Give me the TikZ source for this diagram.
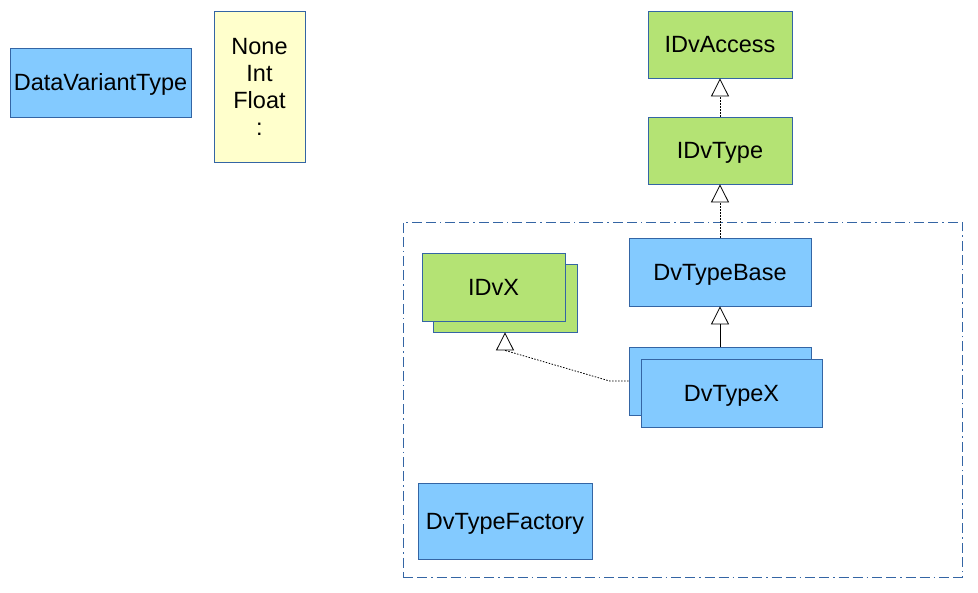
\documentclass[tikz,border=0pt]{standalone}
\usepackage{fontspec}
\setmainfont{Liberation Sans}
\usetikzlibrary{positioning, arrows.meta, calc}

\definecolor{clsblue}{HTML}{83CAFF}
\definecolor{ifgreen}{HTML}{B4E374}
\definecolor{enumyellow}{HTML}{FFFFCC}
\definecolor{edgeblue}{HTML}{3465A4}

\begin{document}
\begin{tikzpicture}[
        x=1pt, y=-1pt,
        font=\fontsize{23.5}{27}\selectfont,
        inherit/.style={-{Triangle[open, length=18pt, width=18pt]}, line width=0.8pt},
        realize/.style={inherit, dash pattern=on 1.5pt off 1.5pt},
        umlbox/.style={draw=edgeblue, line width=0.8pt, inner sep=0pt, align=center},
        classbox/.style={umlbox, fill=clsblue, text height=17pt, text depth=0pt},
        iface/.style={classbox, fill=ifgreen},
        enumbox/.style={umlbox, fill=enumyellow},
        package/.style={draw=edgeblue, line width=0.8pt, dash pattern=on 10pt off 4pt on 10pt off 4pt on 1.5pt off 4pt},
    ]
    \useasboundingbox (0,0) rectangle (978,593);

        % Draw the package frame
        \node[package, minimum width=559pt, minimum height=355pt, inner sep=0pt] (pkg) at (682.5,399.5) {};

        % Draw the types on the left
        \node[classbox, minimum width=181pt, minimum height=69pt] (DataVariantType) at (100.5,82.5) {DataVariantType};
        \node[enumbox, minimum width=91pt, minimum height=151pt] (Kinds) at (259.5,86.5) {None\\Int\\Float\\:};

        % Draw the interfaces
        \node[iface, minimum width=144pt, minimum height=67pt] (IDvAccess) at (720,44.5) {IDvAccess};
        \node[iface, minimum width=144pt, minimum height=67pt] (IDvType) at (720,150.5) {IDvType};
        \node[iface, minimum width=144pt, minimum height=68pt] (IDvX-back) at (505,298) {};
        \node[iface, minimum width=143pt, minimum height=68pt] (IDvX) at (493.5,287) {IDvX};

        % Draw the classes
        \node[classbox, minimum width=182pt, minimum height=68pt] (DvTypeBase) at (720,272) {DvTypeBase};
        \node[classbox, minimum width=182pt, minimum height=68pt] (DvTypeX-back) at (720,381) {};
        \node[classbox, minimum width=181pt, minimum height=68pt] (DvTypeX) at (731.5,393) {DvTypeX};
        \node[classbox, minimum width=174pt, minimum height=76pt] (DvTypeFactory) at (505,521) {DvTypeFactory};

        % Connect the interfaces
        \foreach \src/\dst in {IDvType/IDvAccess, DvTypeBase/IDvType}
            \draw[realize] (\src.north) -- (\dst.south);

        \draw[inherit] (DvTypeX-back.north) -- (DvTypeBase.south);

        \coordinate (bend) at ($(DvTypeX-back.west)+(-19,0)$);
        \coordinate (tipbase) at ($(IDvX-back.south)+(0,18)$);
        \draw[line width=0.8pt, dash pattern=on 1.5pt off 1.5pt] (DvTypeX-back.west) -- (bend) -- (tipbase);
        \draw[inherit] (tipbase) -- (IDvX-back.south);
    \end{tikzpicture}
\end{document}
